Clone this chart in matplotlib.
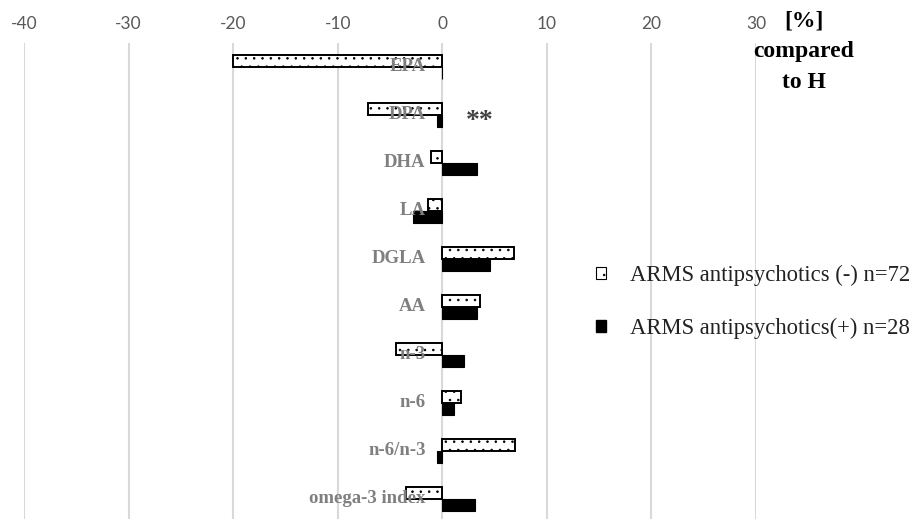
import matplotlib.pyplot as plt
import numpy as np
from matplotlib.patches import Patch

# percent difference vs healthy controls
categories = ["EPA", "DPA", "DHA", "LA", "DGLA", "AA", "n-3", "n-6", "n-6/n-3", "omega-3 index"]
arms_minus = [-20.0, -7.1, -1.05, -1.35, 6.9, 3.6, -4.4, 1.8, 7.0, -3.5]
arms_plus = [0.0, -0.5, 3.35, -2.8, 4.6, 3.35, 2.1, 1.15, -0.5, 3.1]
xticks = [-40, -30, -20, -10, 0, 10, 20, 30]
label_minus = "ARMS antipsychotics (-) n=72"
label_plus = "ARMS antipsychotics(+) n=28"

plt.rcParams["axes.unicode_minus"] = False
plt.rcParams["hatch.linewidth"] = 0.6
plt.rcParams["font.family"] = ["Liberation Serif", "DejaVu Serif"]

W, H = 924, 519
fig = plt.figure(figsize=(W / 100, H / 100), dpi=100)
ax = fig.add_axes([24 / W, (H - 523) / H, (756 - 24) / W, 480 / H])

y = np.arange(len(categories))
bh = 0.25
ax.barh(y - bh / 2, arms_minus, height=bh, color="white", edgecolor="black",
        linewidth=1.4, hatch="..", zorder=3)
ax.barh(y + bh / 2, arms_plus, height=bh, color="black", edgecolor="black",
        linewidth=0.8, zorder=3)

ax.set_xlim(-40, 30)
ax.set_ylim(len(categories) - 0.5, -0.5)
ax.set_xticks(xticks)
ax.set_yticks([])
ax.xaxis.tick_top()
ax.tick_params(axis="x", length=0, pad=8, labelsize=12.5, labelcolor="#595959")
for lab in ax.get_xticklabels():
    lab.set_fontfamily("Lato")
ax.grid(axis="x", color="#d9d9d9", linewidth=1.5, zorder=0)
for s in ax.spines.values():
    s.set_visible(False)

# category names sit just left of zero
for i, name in enumerate(categories):
    ax.annotate(name, xy=(0, i), xytext=(-12, 0), textcoords="offset points",
                ha="right", va="center", fontsize=13.5, fontweight="bold",
                color="#7f7f7f", zorder=4)

ax.annotate("**", xy=(0, 1), xytext=(17, -5), textcoords="offset points",
            ha="left", va="center", fontsize=20, fontweight="bold",
            color="#404040")

# unit caption, one text per line
for txt, ypx in [("[%]", 21), ("compared", 52), ("to H", 83)]:
    fig.text(804 / W, 1 - ypx / H, txt, ha="center", va="center",
             fontsize=17, fontweight="bold", color="black")

handles = [Patch(facecolor="white", edgecolor="black", hatch="..", linewidth=0.8),
           Patch(facecolor="black", edgecolor="black")]
leg = fig.legend(handles, [label_minus, label_plus], loc="center left",
                 bbox_to_anchor=(596 / W, 1 - 302 / H), frameon=False,
                 borderaxespad=0, borderpad=0, fontsize=16.3,
                 handlelength=0.45, handleheight=0.45, handletextpad=1.05,
                 labelspacing=1.4)
for t in leg.get_texts():
    t.set_fontfamily(["Liberation Serif", "DejaVu Serif"])
    t.set_color("#222222")

fig.savefig("out.png", dpi=100)
